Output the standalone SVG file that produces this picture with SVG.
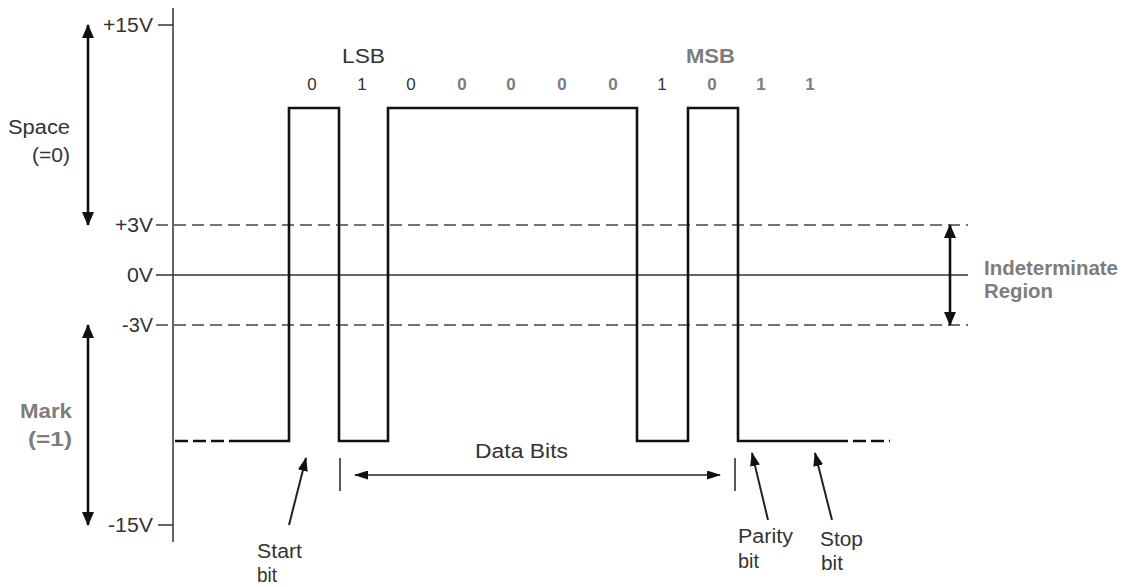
<svg xmlns="http://www.w3.org/2000/svg" width="1130" height="587" viewBox="0 0 1130 587">
  <style>
    .lbl { font-family: "Liberation Sans", Arial, sans-serif; font-size: 20px; fill: #333; }
    .grey { fill: #7d7d7d; font-weight: bold; }
    .digit { font-size: 17px; }
    .axis { stroke: #333; stroke-width: 1.5; fill: none; }
    .dash { stroke: #444; stroke-width: 1.5; stroke-dasharray: 12 6; fill: none; }
    .sig { stroke: #111; stroke-width: 2.6; fill: none; stroke-linejoin: miter; }
    .sigdash { stroke: #111; stroke-width: 2.6; stroke-dasharray: 13 5; fill: none; }
    .range { stroke: #111; stroke-width: 2.6; fill: none; }
    .thin { stroke: #222; stroke-width: 1.5; fill: none; }
    .ptr { stroke: #222; stroke-width: 2; fill: none; }
  </style>
  <defs>
    <marker id="bigHead" viewBox="0 0 14 12" refX="13" refY="6" markerUnits="userSpaceOnUse" markerWidth="14" markerHeight="12" orient="auto-start-reverse">
      <path d="M0,0 L14,6 L0,12 Z" fill="#111"/>
    </marker>
    <marker id="smallHead" viewBox="0 0 14 9" refX="13" refY="4.5" markerUnits="userSpaceOnUse" markerWidth="14" markerHeight="9" orient="auto-start-reverse">
      <path d="M0,0 L14,4.5 L0,9 Z" fill="#111"/>
    </marker>
    <marker id="ptrHead" viewBox="0 0 14 10" refX="13" refY="5" markerUnits="userSpaceOnUse" markerWidth="14" markerHeight="10" orient="auto">
      <path d="M0,0 L14,5 L0,10 Z" fill="#111"/>
    </marker>
  </defs>
  <rect width="1130" height="587" fill="#fff"/>

  <!-- voltage axis with ticks and level lines -->
  <g id="axis">
    <line class="axis" x1="173" y1="8" x2="173" y2="542"/>
    <line class="axis" x1="158" y1="25" x2="173" y2="25"/>
    <line class="axis" x1="158" y1="525" x2="173" y2="525"/>
    <line class="dash" x1="156" y1="225" x2="968" y2="225"/>
    <line class="axis" x1="156" y1="275" x2="968" y2="275"/>
    <line class="dash" x1="156" y1="325" x2="968" y2="325"/>
    <text class="lbl" x="103" y="32" textLength="50" lengthAdjust="spacingAndGlyphs">+15V</text>
    <text class="lbl" x="115" y="232" textLength="38" lengthAdjust="spacingAndGlyphs">+3V</text>
    <text class="lbl" x="127" y="282" textLength="26" lengthAdjust="spacingAndGlyphs">0V</text>
    <text class="lbl" x="122" y="332" textLength="31" lengthAdjust="spacingAndGlyphs">-3V</text>
    <text class="lbl" x="108" y="532" textLength="45" lengthAdjust="spacingAndGlyphs">-15V</text>
  </g>

  <!-- serial character waveform -->
  <g id="waveform">
    <line class="sigdash" x1="175" y1="441" x2="230" y2="441"/>
    <path class="sig" d="M230,441 H289 V108 H339 V441 H388 V108 H637 V441 H688 V108 H738 V441 H848"/>
    <line class="sigdash" x1="853" y1="441" x2="890" y2="441"/>
  </g>

  <!-- bit values -->
  <g id="bits">
    <text class="lbl" x="342" y="63" textLength="43" lengthAdjust="spacingAndGlyphs">LSB</text>
    <text class="lbl grey" x="686" y="63" textLength="49" lengthAdjust="spacingAndGlyphs">MSB</text>
    <text class="lbl digit" x="312" y="90" text-anchor="middle">0</text>
    <text class="lbl digit" x="362" y="90" text-anchor="middle">1</text>
    <text class="lbl digit" x="411" y="90" text-anchor="middle">0</text>
    <text class="lbl digit grey" x="462" y="90" text-anchor="middle">0</text>
    <text class="lbl digit grey" x="511" y="90" text-anchor="middle">0</text>
    <text class="lbl digit grey" x="562" y="90" text-anchor="middle">0</text>
    <text class="lbl digit grey" x="613" y="90" text-anchor="middle">0</text>
    <text class="lbl digit" x="662" y="90" text-anchor="middle">1</text>
    <text class="lbl digit grey" x="712" y="90" text-anchor="middle">0</text>
    <text class="lbl digit grey" x="761" y="90" text-anchor="middle">1</text>
    <text class="lbl digit grey" x="810" y="90" text-anchor="middle">1</text>
  </g>

  <!-- space / mark ranges -->
  <g id="space">
    <line class="range" x1="88" y1="25" x2="88" y2="225" marker-start="url(#bigHead)" marker-end="url(#bigHead)"/>
    <text class="lbl" x="8" y="134" textLength="62" lengthAdjust="spacingAndGlyphs">Space</text>
    <text class="lbl" x="32" y="162" textLength="38" lengthAdjust="spacingAndGlyphs">(=0)</text>
  </g>
  <g id="mark">
    <line class="range" x1="88" y1="325" x2="88" y2="525" marker-start="url(#bigHead)" marker-end="url(#bigHead)"/>
    <text class="lbl grey" x="20" y="418" textLength="52" lengthAdjust="spacingAndGlyphs">Mark</text>
    <text class="lbl grey" x="28" y="446" textLength="44" lengthAdjust="spacingAndGlyphs">(=1)</text>
  </g>

  <!-- indeterminate band -->
  <g id="indeterminate">
    <line class="range" x1="950" y1="225" x2="950" y2="325" marker-start="url(#bigHead)" marker-end="url(#bigHead)"/>
    <text class="lbl grey" x="984" y="275" textLength="134" lengthAdjust="spacingAndGlyphs">Indeterminate</text>
    <text class="lbl grey" x="984" y="298" textLength="69" lengthAdjust="spacingAndGlyphs">Region</text>
  </g>

  <!-- data bits span -->
  <g id="data-bits">
    <line class="thin" x1="340" y1="458" x2="340" y2="491"/>
    <line class="thin" x1="735" y1="458" x2="735" y2="491"/>
    <line class="thin" x1="355" y1="475" x2="720" y2="475" marker-start="url(#smallHead)" marker-end="url(#smallHead)"/>
    <text class="lbl" x="475" y="458" textLength="93" lengthAdjust="spacingAndGlyphs">Data Bits</text>
  </g>

  <!-- pointer labels -->
  <g id="connectors">
    <line class="ptr" x1="289" y1="525" x2="306" y2="458" marker-end="url(#ptrHead)"/>
    <line class="ptr" x1="768" y1="520" x2="752" y2="453" marker-end="url(#ptrHead)"/>
    <line class="ptr" x1="832" y1="520" x2="815" y2="453" marker-end="url(#ptrHead)"/>
  </g>
  <g id="start-bit">
    <text class="lbl" x="257" y="558" textLength="45" lengthAdjust="spacingAndGlyphs">Start</text>
    <text class="lbl" x="257" y="582" textLength="20" lengthAdjust="spacingAndGlyphs">bit</text>
  </g>
  <g id="parity-bit">
    <text class="lbl" x="738" y="543" textLength="55" lengthAdjust="spacingAndGlyphs">Parity</text>
    <text class="lbl" x="738" y="568" textLength="21" lengthAdjust="spacingAndGlyphs">bit</text>
  </g>
  <g id="stop-bit">
    <text class="lbl" x="820" y="546" textLength="43" lengthAdjust="spacingAndGlyphs">Stop</text>
    <text class="lbl" x="821" y="570" textLength="22" lengthAdjust="spacingAndGlyphs">bit</text>
  </g>
</svg>
